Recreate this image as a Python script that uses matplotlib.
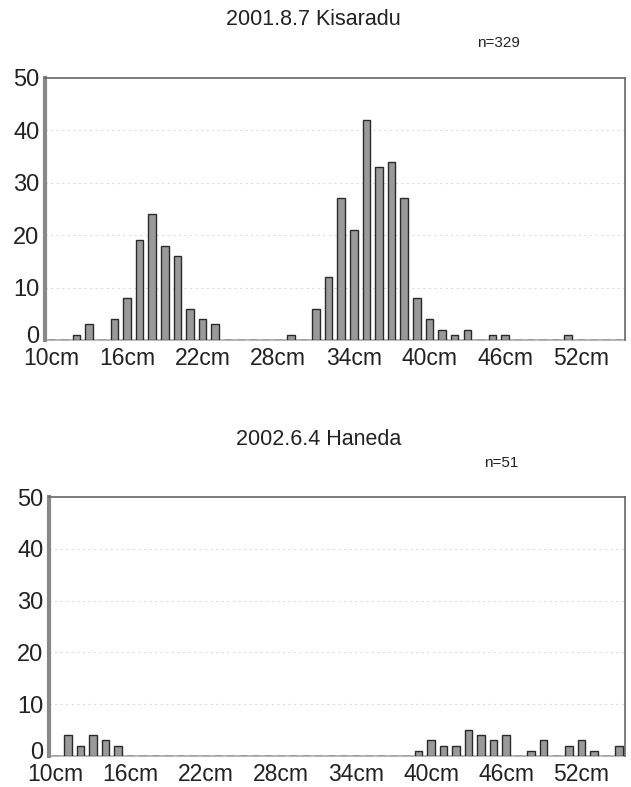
import numpy as np
import matplotlib
matplotlib.use('Agg')
import matplotlib.pyplot as plt
import matplotlib.transforms as mtransforms

plt.rcParams['font.family'] = ['Liberation Sans', 'DejaVu Sans']

# length classes 10cm .. 55cm (1cm bins)
sizes = list(range(10, 56))
tick_sizes = [10, 16, 22, 28, 34, 40, 46, 52]
tick_labels = [str(s) + 'cm' for s in tick_sizes]

# 2001.8.7 Kisaradu, n=329
kisaradu = [0, 0, 1, 3, 0, 4, 8, 19, 24, 18,
            16, 6, 4, 3, 0, 0, 0, 0, 0, 1,
            0, 6, 12, 27, 21, 42, 33, 34, 27, 8,
            4, 2, 1, 2, 0, 1, 1, 0, 0, 0,
            0, 1, 0, 0, 0, 0]

# 2002.6.4 Haneda, n=51
haneda = [0, 4, 2, 4, 3, 2, 0, 0, 0, 0,
          0, 0, 0, 0, 0, 0, 0, 0, 0, 0,
          0, 0, 0, 0, 0, 0, 0, 0, 0, 1,
          3, 2, 2, 5, 4, 3, 4, 0, 1, 3,
          0, 2, 3, 1, 0, 2]

panels = [
    ('2001.8.7 Kisaradu', 'n=329', kisaradu, [0.0713, 0.568, 0.919, 0.333], (0.497, 0.975), (0.79, 0.945)),
    ('2002.6.4 Haneda', 'n=51', haneda, [0.0777, 0.0394, 0.913, 0.329], (0.505, 0.441), (0.795, 0.412)),
]

fig = plt.figure(figsize=(6.31, 7.87), dpi=100)

for title, ntext, counts, rect, tpos, npos in panels:
    ax = fig.add_axes(rect)
    ax.bar(sizes, counts, width=0.6, color='#9a9a9a', edgecolor='#2a2a2a', linewidth=1.0, zorder=3)
    ax.set_xlim(9.5, 55.5)
    ax.set_ylim(0, 50)
    ax.set_yticks([0, 10, 20, 30, 40, 50])
    ax.set_xticks(tick_sizes)
    ax.set_xticklabels(tick_labels)
    ax.tick_params(axis='both', length=0, labelsize=17, colors='#222222')
    ax.tick_params(axis='x', pad=5, labelsize=16.5)
    ax.tick_params(axis='y', pad=4)
    # lift the "0" a little so it sits just above "10cm"
    zero_lbl = ax.get_yticklabels()[0]
    zero_lbl.set_transform(zero_lbl.get_transform() + mtransforms.ScaledTranslation(0, 4 / 72, fig.dpi_scale_trans))
    # faint dotted grid like the scan
    for yv in [10, 20, 30, 40]:
        ax.axhline(yv, color='#dddddd', lw=0.8, ls=(0, (2, 3)), zorder=1)
    for side in ['top', 'right']:
        ax.spines[side].set_color('#666666')
        ax.spines[side].set_linewidth(1.2)
    ax.spines['bottom'].set_color('#aaaaaa')
    ax.spines['bottom'].set_linewidth(1.2)
    ax.spines['bottom'].set_zorder(2)
    ax.spines['left'].set_color('#888888')
    ax.spines['left'].set_linewidth(3)
    fig.text(tpos[0], tpos[1], title, ha='center', va='center', fontsize=15.5, color='#222222')
    fig.text(npos[0], npos[1], ntext, ha='center', va='center', fontsize=11, color='#222222')

fig.savefig('out.png', dpi=100)
